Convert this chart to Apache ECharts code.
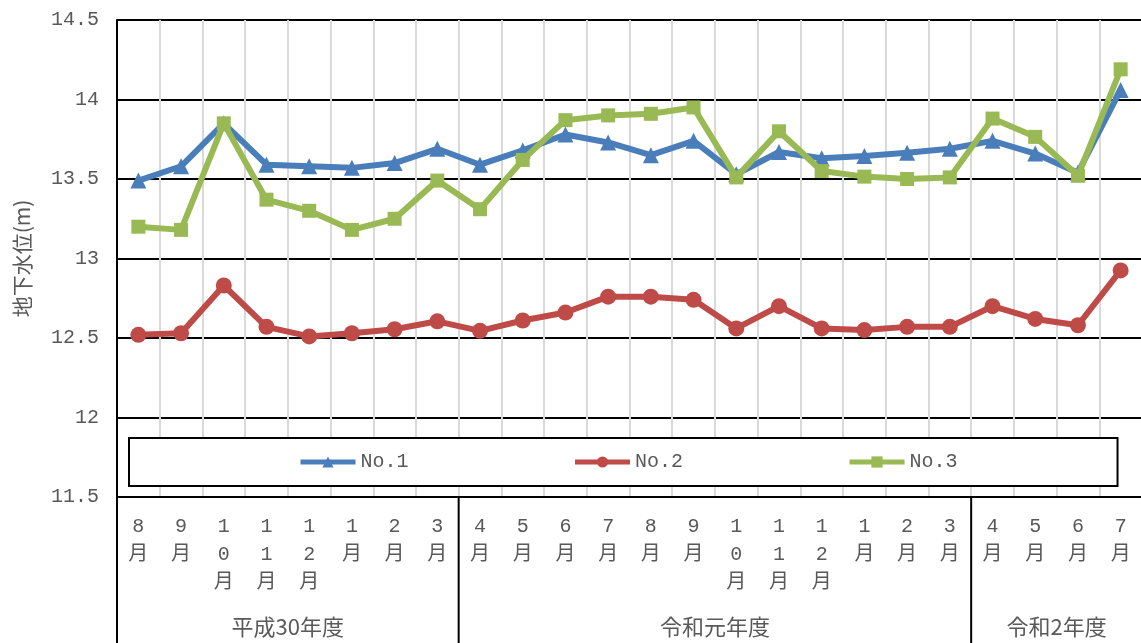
<!DOCTYPE html>
<html>
<head>
<meta charset="utf-8">
<script src="https://cdn.jsdelivr.net/npm/echarts@6/dist/echarts.min.js"></script>
<style>
  html, body { margin: 0; padding: 0; background: #fff; }
  #chart { width: 1141px; height: 643px; }
</style>
</head>
<body>
<div id="chart"></div>
<script>
// Monthly groundwater levels (m) at three observation wells
const months = ['8月','9月','10月','11月','12月','1月','2月','3月',
                '4月','5月','6月','7月','8月','9月','10月','11月','12月','1月','2月','3月',
                '4月','5月','6月','7月'];
const fiscalYears = ['平成30年度', '令和元年度', '令和2年度'];
const yearSpans = [8, 12, 4];
const seriesNames = ['No.1', 'No.2', 'No.3'];

const no1 = [13.49, 13.58, 13.85, 13.59, 13.58, 13.57, 13.60, 13.69,
             13.59, 13.68, 13.78, 13.73, 13.65, 13.74, 13.53, 13.67, 13.63, 13.645, 13.665, 13.69,
             13.74, 13.66, 13.54, 14.06];
const no2 = [12.52, 12.53, 12.83, 12.57, 12.51, 12.53, 12.555, 12.605,
             12.545, 12.61, 12.66, 12.76, 12.76, 12.74, 12.56, 12.70, 12.56, 12.55, 12.57, 12.57,
             12.70, 12.62, 12.58, 12.925];
const no3 = [13.20, 13.18, 13.85, 13.37, 13.30, 13.18, 13.25, 13.49,
             13.31, 13.62, 13.87, 13.90, 13.91, 13.95, 13.51, 13.80, 13.55, 13.515, 13.50, 13.51,
             13.88, 13.765, 13.52, 14.19];

const yMin = 11.5, yMax = 14.5, yStep = 0.5;

const MONO = "'Liberation Mono', 'Noto Sans CJK JP', monospace";
const CJK = "'Noto Sans CJK JP', sans-serif";
const TEXT = '#595959';
const colors = ['#4A7EBB', '#BE4B48', '#98B954'];
const symbols = ['triangle', 'circle', 'rect'];
const symbolSizes = [16, 16, 14];

const chart = echarts.init(document.getElementById('chart'), null, { renderer: 'canvas' });

const option = {
  animation: false,
  backgroundColor: '#fff',
  color: colors,
  grid: { left: 117, top: 20, width: 1025, height: 477, outerBoundsMode: 'none' },
  legend: {
    data: seriesNames,
    left: 129, top: 438,
    padding: [14, 160, 14, 169],
    itemGap: 164,
    itemWidth: 55, itemHeight: 14,
    borderColor: '#000', borderWidth: 2,
    backgroundColor: '#fff',
    lineStyle: { width: 5 },
    textStyle: { fontSize: 20, fontFamily: MONO, color: TEXT }
  },
  xAxis: {
    type: 'category',
    data: months,
    boundaryGap: true,
    axisLine: { show: true, lineStyle: { color: '#000', width: 2 } },
    axisTick: { show: false },
    axisLabel: {
      interval: 0,
      margin: 16,
      color: TEXT,
      fontSize: 20,
      lineHeight: 28,
      fontFamily: MONO,
      formatter: v => v.split('').join('\n')
    },
    splitLine: { show: true, interval: 0, lineStyle: { color: '#d9d9d9', width: 2 } }
  },
  yAxis: {
    type: 'value',
    min: yMin, max: yMax, interval: yStep,
    name: '地下水位(m)',
    nameLocation: 'middle',
    nameGap: 84,
    nameTextStyle: { fontSize: 21, fontFamily: CJK, color: TEXT },
    axisLine: { show: true, lineStyle: { color: '#000', width: 2 } },
    axisTick: { show: false },
    axisLabel: { margin: 18, color: TEXT, fontSize: 20, fontFamily: MONO },
    splitLine: { show: true, lineStyle: { color: '#000', width: 2 } }
  },
  series: [no1, no2, no3].map((d, i) => ({
    name: seriesNames[i],
    type: 'line',
    data: d,
    symbol: symbols[i],
    symbolSize: symbolSizes[i],
    showAllSymbol: true,
    lineStyle: { width: 6, color: colors[i] },
    itemStyle: { color: colors[i] },
    z: 3 + (i === 1 ? 0 : i)
  }))
};
chart.setOption(option);

// Fiscal-year grouping under the month labels, positioned from the category axis
function drawGroups() {
  const c0 = chart.convertToPixel({ xAxisIndex: 0 }, 0);
  const c1 = chart.convertToPixel({ xAxisIndex: 0 }, 1);
  const band = c1 - c0;
  const start = c0 - band / 2;
  const axisY = chart.convertToPixel({ yAxisIndex: 0 }, yMin);
  const bottom = 643;
  const elements = [];
  let acc = 0;
  elements.push({
    type: 'line', shape: { x1: start, y1: axisY, x2: start, y2: bottom },
    style: { stroke: '#000', lineWidth: 2 }, silent: true
  });
  yearSpans.forEach((n, i) => {
    const xa = start + acc * band;
    const xb = start + (acc + n) * band;
    if (i > 0) {
      elements.push({
        type: 'line', shape: { x1: xa, y1: axisY, x2: xa, y2: bottom },
        style: { stroke: '#000', lineWidth: 2 }, silent: true
      });
    }
    elements.push({
      type: 'text', x: (xa + xb) / 2, y: 627,
      style: {
        text: fiscalYears[i], fill: TEXT, fontSize: 22, fontFamily: CJK,
        align: 'center', verticalAlign: 'middle'
      },
      silent: true
    });
    acc += n;
  });
  chart.setOption({ graphic: { elements } });
}
drawGroups();
</script>
</body>
</html>
